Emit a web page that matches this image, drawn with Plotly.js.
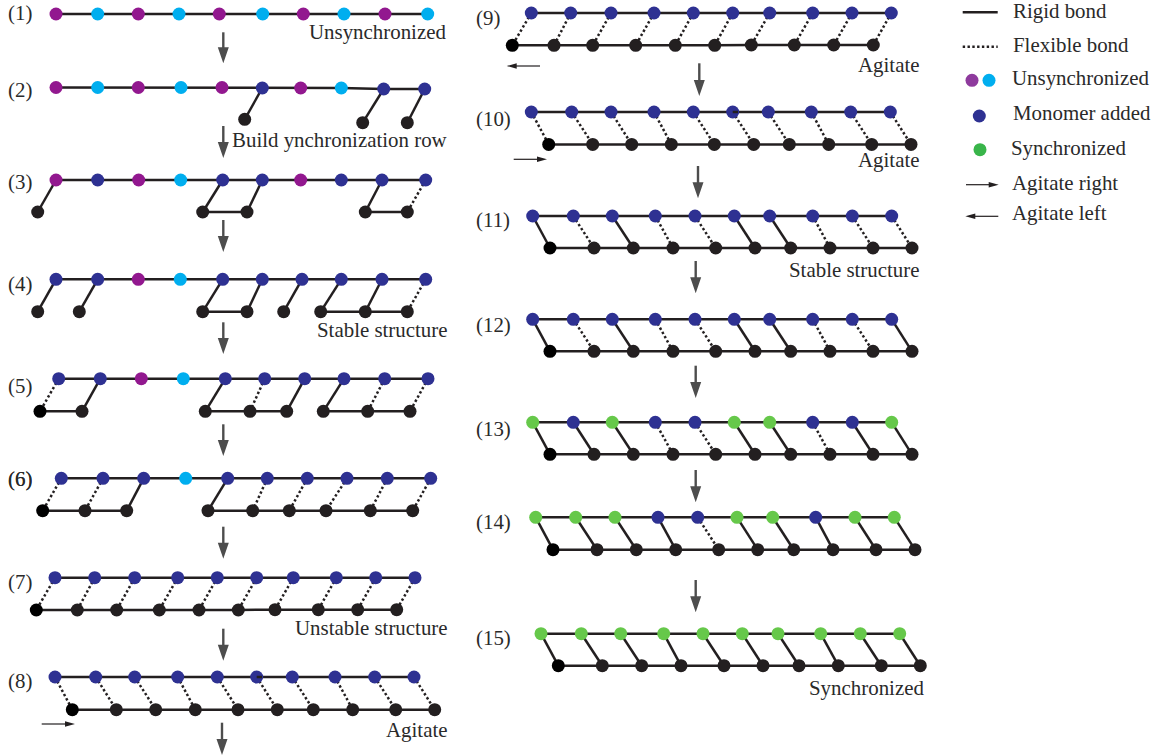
<!DOCTYPE html>
<html><head><meta charset="utf-8">
<script src="https://cdn.plot.ly/plotly-3.0.1.min.js"></script>
<style>html,body{margin:0;padding:0;background:#fff}#c{width:1156px;height:756px}</style>
</head><body><div id="c"></div>
<script>
// Colour keys: p purple, c cyan, b navy, g green
const n = null;
const topX1=[56,97.7,138.3,179,219.3,262.7,303.3,344,385,427.7];
const topY1=[14,14,14,14,14,14,14,14,14,14];
const col1="pcpcpcpcpc";
const botX1=[n,n,n,n,n,n,n,n,n,n];
const botY1=[n,n,n,n,n,n,n,n,n,n];
const bond1="..........";
const link1=[];

const topX2=[56,97.7,138.3,181,222,262.3,300.7,341.3,383.7,424.7];
const topY2=[87.5,87.5,87.5,87.5,87.5,88,88,88,89,89];
const col2="pcpcpbpcbb";
const botX2=[n,n,n,n,n,244.7,n,n,362.7,407.3];
const botY2=[n,n,n,n,n,119.3,n,n,122.7,122.7];
const bond2=".....r..rr";
const link2=[];

const topX3=[56,97.7,138.7,180.7,222.7,262.3,300.7,341.3,382,425.7];
const topY3=[180,180,180,180,180,180,180,180,180,180];
const col3="pbpcbbpbbb";
const botX3=[37.7,n,n,n,202.7,247,n,n,365.3,407.3];
const botY3=[212,n,n,n,212,212,n,n,212,212];
const bond3="r...rr..rd";
const link3=[4,8];

const topX4=[56,97.7,138.3,180.3,222.7,262.3,302,341.3,382,425.7];
const topY4=[279.3,279.3,279.3,279.3,279.3,279.3,279.3,279.3,279.3,279.3];
const col4="bbpcbbbbbb";
const botX4=[37.7,79.3,n,n,202.7,247,283.7,320.7,365.3,407.3];
const botY4=[311.7,311.7,n,n,311.7,311.7,311.7,311.7,311.7,311.7];
const bond4="rr..rrrrrd";
const link4=[4,7,8];

const topX5=[58.7,100.3,141.3,183.3,225.3,264.7,304.7,344,384.7,428];
const topY5=[378.7,378.7,378.7,378.7,378.7,378.7,378.7,378.7,378.7,378.7];
const col5="bbpcbbbbbb";
const botX5=[40,82,n,n,205.3,250,286.7,323.3,367.7,410];
const botY5=[411.3,411.3,n,n,411.3,411.3,411.3,411.3,411.3,411.3];
const bond5="dr..rdrrdd";
const link5=[0,4,5,7,8];

const topX6=[61.3,103,143.7,185.7,227.7,267.3,307.3,347,387.3,430.7];
const topY6=[478.3,478.3,478.3,478.3,478.3,478.3,478.3,478.3,478.3,478.3];
const col6="bbbcbbbbbb";
const botX6=[42.7,85,126.7,n,208,252.7,289.3,326,370.3,412.7];
const botY6=[510.7,510.7,510.7,n,510.7,510.7,510.7,510.7,510.7,510.7];
const bond6="ddr.rddddd";
const link6=[0,1,4,5,6,7,8];

const topX7=[55,94.7,134.7,177.7,217.3,256.7,293.3,336.3,375.7,415];
const topY7=[577.7,577.7,577.7,577.7,577.7,577.7,577.7,577.7,577.7,577.7];
const col7="bbbbbbbbbb";
const botX7=[36.3,77.3,116.7,159.3,199,238.3,275,318.3,357.7,396.7];
const botY7=[610,610,610,610,610,610,609.7,609.7,609.7,609.7];
const bond7="dddddddddd";
const link7=[0,1,2,3,4,5,6,7,8];

const topX8=[55,95.7,134.7,177.7,217.3,256.7,292.3,335,374.7,414];
const topY8=[677,677,677,677,677,677,677,677,677,677];
const col8="bbbbbbbbbb";
const botX8=[72.3,116.3,155.7,195.3,238,277.3,313.3,352.7,395.7,434.7];
const botY8=[709.7,709.7,709.7,709.7,709.7,709.7,709.7,709.7,709.7,709.7];
const bond8="dddddddddd";
const link8=[0,1,2,3,4,5,6,7,8];

const topX9=[531.3,570.7,611,654,693.3,732.7,769.7,812.7,852,891.3];
const topY9=[13,13,13,13,13,13,13,13,13,13];
const col9="bbbbbbbbbb";
const botX9=[512.3,554,592.7,635.7,675.3,714.7,751.3,794.3,833.7,873.3];
const botY9=[45.3,45.3,45.3,45.3,45.3,45.3,45,45,45,45];
const bond9="dddddddddd";
const link9=[0,1,2,3,4,5,6,7,8];

const topX10=[531.3,571.7,611,654,693.3,732.7,768.3,811.3,850.7,890.3];
const topY10=[112,112,112,112,112,112,112,112,112,112];
const col10="bbbbbbbbbb";
const botX10=[548.7,592.7,631.7,671.3,714.3,753.7,789.3,828.7,871.7,911];
const botY10=[144.4,144.4,144.4,144.4,144.4,144.4,144.4,144.4,144.4,144.4];
const bond10="dddddddddd";
const link10=[0,1,2,3,4,5,6,7,8];

const topX11=[532.7,573.3,612.3,655.3,695,734.3,769.7,812.7,852.3,891.7];
const topY11=[216,216,216,216,216,216,216,216,216,216];
const col11="bbbbbbbbbb";
const botX11=[550,594,633.3,673,715.7,755,790.7,830,873,912];
const botY11=[248,248,248,248,248,248,248,248,248,248];
const bond11="rdrddrrddd";
const link11=[0,1,2,3,4,5,6,7,8];

const topX12=[532.7,573.3,612.3,655.3,695,734.3,769.7,812.7,852.3,891.7];
const topY12=[319.3,319.3,319.3,319.3,319.3,319.3,319.3,319.3,319.3,319.3];
const col12="bbbbbbbbbb";
const botX12=[550,594,633.3,673,715.7,755,790.7,830,873,912];
const botY12=[351.3,351.3,351.3,351.3,351.3,351.3,351.3,351.3,351.3,351.3];
const bond12="rdrddrrddr";
const link12=[0,1,2,3,4,5,6,7,8];

const topX13=[532.7,573.3,612.3,655.3,695,734.3,769.7,812.7,852.3,891.7];
const topY13=[422.3,422.3,422.3,422.3,422.3,422.3,422.3,422.3,422.3,422.3];
const col13="gbgbbggbbg";
const botX13=[550,594,633.3,673,715.7,755,790.7,830,873,912];
const botY13=[454.3,454.3,454.3,454.3,454.3,454.3,454.3,454.3,454.3,454.3];
const bond13="rrrddrrdrr";
const link13=[0,1,2,3,4,5,6,7,8];

const topX14=[535.7,575.7,615,658,697.7,737,772.7,815.7,855,894.3];
const topY14=[517.3,517.3,517.3,517.3,517.3,517.3,517.3,517.3,517.3,517.3];
const col14="gggbbggbgg";
const botX14=[553,597,636.3,675.7,718.7,757.7,793.7,833,876,915];
const botY14=[549.7,549.7,549.7,549.7,549.7,549.7,549.7,549.7,549.7,549.7];
const bond14="rrrrdrrrrr";
const link14=[0,1,2,3,4,5,6,7,8];

const topX15=[541,581.3,620.7,663.7,703,742.3,778,820.7,860.3,899.7];
const topY15=[633.7,633.7,633.7,633.7,633.7,633.7,633.7,633.7,633.7,633.7];
const col15="gggggggggg";
const botX15=[558.3,602.3,641.7,681,724,763,799,838.3,881.3,920.3];
const botY15=[665.7,665.7,665.7,665.7,665.7,665.7,665.7,665.7,665.7,665.7];
const bond15="rrrrrrrrrr";
const link15=[0,1,2,3,4,5,6,7,8];

const stepTopX=[topX1,topX2,topX3,topX4,topX5,topX6,topX7,topX8,topX9,topX10,topX11,topX12,topX13,topX14,topX15];
const stepTopY=[topY1,topY2,topY3,topY4,topY5,topY6,topY7,topY8,topY9,topY10,topY11,topY12,topY13,topY14,topY15];
const stepCol=[col1,col2,col3,col4,col5,col6,col7,col8,col9,col10,col11,col12,col13,col14,col15];
const stepBotX=[botX1,botX2,botX3,botX4,botX5,botX6,botX7,botX8,botX9,botX10,botX11,botX12,botX13,botX14,botX15];
const stepBotY=[botY1,botY2,botY3,botY4,botY5,botY6,botY7,botY8,botY9,botY10,botY11,botY12,botY13,botY14,botY15];
const stepBond=[bond1,bond2,bond3,bond4,bond5,bond6,bond7,bond8,bond9,bond10,bond11,bond12,bond13,bond14,bond15];
const stepLink=[link1,link2,link3,link4,link5,link6,link7,link8,link9,link10,link11,link12,link13,link14,link15];

// Step numbers ("(6)" is overprinted in the reference, hence the extra entry)
const stepLabels=["(1)","(2)","(3)","(4)","(5)","(6)","(6)","(7)","(8)","(9)","(10)","(11)","(12)","(13)","(14)","(15)"];
const stepLabelX=[7.5,7.5,7.5,7.5,7.5,7.5,7.9,7.5,7.5,475.5,475.5,475.5,475.5,475.5,475.5,475.5];
const stepLabelY=[13.2,90,181.7,284.2,385.7,479.2,479.2,582.2,680.5,18.2,119.2,219.9,324.5,429,521.5,638];

// Captions (right aligned)
const capText=["Unsynchronized","Build ynchronization row","Stable structure","Unstable structure","Agitate","Agitate","Agitate","Stable structure","Synchronized"];
const capX=[446,446.5,447.5,447.5,447.5,919.8,919.8,919.8,923.8];
const capY=[32.2,140.2,330.2,628.2,729.9,64.9,159.5,269.9,687.9];

// Big down arrows
const downX=[223.3,223.3,223.3,223.3,223.3,223.3,223.3,222,699.3,698,695.7,695.7,695.7,695.7];
const downY0=[32.3,126,220,322.3,424.3,526.7,628.7,722.7,63.3,166,261,365.7,470,580];
const downY1=[63.3,158,252,354,456,558.7,660.7,755,96,198.3,293.3,398,502.3,612.3];

// Small agitate arrows
const smallX0=[41.7,540,513.7,966,998.3];
const smallX1=[75,506.7,547,998.7,965.3];
const smallY=[724,66,159.3,184.7,216.3];

// Short bond stubs that overprint the sixth monomer in steps 8 and 10
const stubX=[256.7,262,n,732.7,738];
const stubY=[677,677,n,112,112];

// Legend
const legText=["Rigid bond","Flexible bond","Unsynchronized","Monomer added","Synchronized","Agitate right","Agitate left"];
const legTextX=[1013,1013,1012,1013,1010.7,1012,1012];
const legTextY=[10.5,44.5,77.9,112.8,147.8,182.8,212.8];
const legRigidX=[962.7,997.7], legRigidY=[12.3,12.3];
const legFlexX=[962.7,997.7], legFlexY=[46.7,46.7];
const legDotX=[972,989,979.3,980];
const legDotY=[80.3,80.3,116,149.7];
const legDotColor=["#8e3a9d","#00aeef","#2e3192","#39b54a"];

const palette={p:"#92188f",c:"#00aeef",b:"#2e3192",g:"#66c84a"};
const INK="#231f20";

let rx=[],ry=[],dx=[],dy=[],mx=[],my=[],mc=[];
stepTopX.forEach((tx,s)=>{
  const ty=stepTopY[s],bx=stepBotX[s],by=stepBotY[s];
  rx.push(...tx,n);ry.push(...ty,n);
  stepLink[s].forEach(i=>{rx.push(bx[i],bx[i+1],n);ry.push(by[i],by[i+1],n);});
  for(let i=0;i<10;i++){
    const k=stepBond[s][i];
    if(k==='r'){rx.push(tx[i],bx[i],n);ry.push(ty[i],by[i],n);}
    if(k==='d'){dx.push(tx[i],bx[i],n);dy.push(ty[i],by[i],n);}
    mx.push(tx[i]);my.push(ty[i]);mc.push(palette[stepCol[s][i]]);
    if(bx[i]!==n){mx.push(bx[i]);my.push(by[i]);mc.push((s>=4&&i===0)?"#000":INK);}
  }
});
rx.push(n,...legRigidX);ry.push(n,...legRigidY);
dx.push(n,...legFlexX);dy.push(n,...legFlexY);

let shX=[],shY=[],hdX=[],hdY=[];
const GRAY="#4d4d4d";
downX.forEach((x,i)=>{
  const a=downY0[i],b=downY1[i];
  shX.push(x,x,n);shY.push(a,b-10,n);
  hdX.push(x-5.5,x+5.5,x,x-5.5,n);hdY.push(b-16,b-16,b,b-16,n);
});
let saX=[],saY=[],sbX=[],sbY=[];
smallX0.forEach((x0,i)=>{
  const x1=smallX1[i],y=smallY[i],d=Math.sign(x1-x0);
  saX.push(x0,x1-d*4,n);saY.push(y,y,n);
  sbX.push(x1-d*10,x1,x1-d*10,x1-d*10,n);sbY.push(y-2.7,y,y+2.7,y-2.7,n);
});

const traces=[
 {x:rx,y:ry,mode:"lines",line:{color:INK,width:2.5},connectgaps:false},
 {x:dx,y:dy,mode:"lines",line:{color:INK,width:2.5,dash:"2.4px,2.4px"},connectgaps:false},
 {x:mx,y:my,mode:"markers",marker:{size:13,color:mc,line:{width:0}}},
 {x:stubX,y:stubY,mode:"lines",line:{color:INK,width:2.5},connectgaps:false},
 {x:shX,y:shY,mode:"lines",line:{color:GRAY,width:2.4}},
 {x:hdX,y:hdY,mode:"lines",fill:"toself",fillcolor:GRAY,line:{width:0,color:GRAY}},
 {x:saX,y:saY,mode:"lines",line:{color:INK,width:1.2}},
 {x:sbX,y:sbY,mode:"lines",fill:"toself",fillcolor:INK,line:{width:0,color:INK}},
 {x:legDotX,y:legDotY,mode:"markers",marker:{size:13,color:legDotColor,line:{width:0}}}
];
const FONT={family:"'Liberation Serif',serif",size:20.9,color:"#2a2a2a"};
const note=(t,x,y,anchor)=>({text:t,x,y,xref:"x",yref:"y",xanchor:anchor,yanchor:"middle",showarrow:false,font:FONT,borderpad:0,borderwidth:0});
const annotations=[
 ...stepLabels.map((t,i)=>note(t,stepLabelX[i],stepLabelY[i],"left")),
 ...capText.map((t,i)=>note(t,capX[i],capY[i],"right")),
 ...legText.map((t,i)=>note(t,legTextX[i],legTextY[i],"left"))
];
const axis={range:[0,1156],visible:false,fixedrange:true,showgrid:false,zeroline:false};
Plotly.newPlot("c",traces,{
 width:1156,height:756,margin:{l:0,r:0,t:0,b:0,pad:0},
 paper_bgcolor:"#fff",plot_bgcolor:"#fff",showlegend:false,hovermode:false,
 xaxis:axis,yaxis:{...axis,range:[756,0]},annotations
},{displayModeBar:false,staticPlot:true});
</script></body></html>
